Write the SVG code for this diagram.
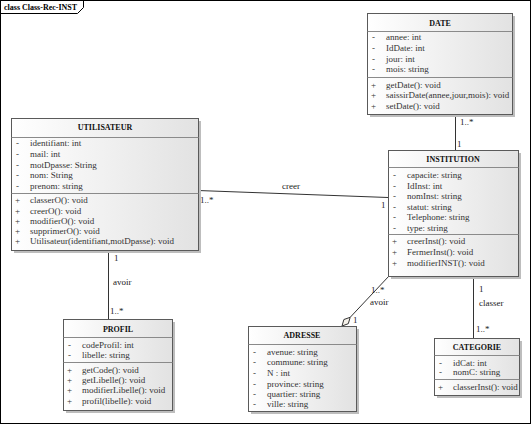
<svg xmlns="http://www.w3.org/2000/svg" width="532" height="425" viewBox="0 0 532 425">
<defs>
<linearGradient id="grad" x1="0" y1="0" x2="1" y2="0">
<stop offset="0" stop-color="#ffffff"/>
<stop offset="1" stop-color="#e2e2e2"/>
</linearGradient>
<style>
.shadow{fill:#bdbdbd;stroke:none}
.box{fill:url(#grad);stroke:#5a5a5a;stroke-width:1}
.sep{stroke:#8a8a8a;stroke-width:1}
.hdr{font-family:"Liberation Serif","Times New Roman",serif;font-size:8px;font-weight:bold;fill:#111;text-anchor:middle}
.t{font-family:"Liberation Serif","Times New Roman",serif;font-size:9px;fill:#333}
.lbl{font-family:"Liberation Serif","Times New Roman",serif;font-size:9px;fill:#222}
.conn{stroke:#333;stroke-width:1;fill:none}
</style>
</defs>
<rect x="0" y="0" width="532" height="425" fill="#ffffff"/>
<g id="frame">
<rect x="0.5" y="0.5" width="530" height="423" fill="none" stroke="#000" stroke-width="1"/>
<path d="M0.5,13.5 H77.5 L83.5,7.5 V0.5" fill="none" stroke="#000" stroke-width="1"/>
<text x="4" y="10" font-family="Liberation Serif, Times New Roman, serif" font-size="8" font-weight="bold" fill="#000">class Class-Rec-INST</text>
</g>

<g id="connectors">
<line class="conn" x1="455.5" y1="114" x2="455.5" y2="150"/>
<text class="lbl" x="460" y="125">1..*</text>
<text class="lbl" x="457" y="147">1</text>

<line class="conn" x1="198" y1="190.5" x2="388" y2="197.5"/>
<text class="lbl" x="282" y="189">creer</text>
<text class="lbl" x="200" y="203">1..*</text>
<text class="lbl" x="381" y="208">1</text>

<line class="conn" x1="108.5" y1="250" x2="108.5" y2="319"/>
<text class="lbl" x="114" y="261">1</text>
<text class="lbl" x="113" y="285">avoir</text>
<text class="lbl" x="110" y="314">1..*</text>

<line class="conn" x1="389" y1="276" x2="350.2" y2="317.3"/>
<polygon points="342,326 348.3,323.7 350.2,317.3 343.9,319.5" fill="#f6f2ea" stroke="#333" stroke-width="1"/>
<text class="lbl" x="371" y="293">1..*</text>
<text class="lbl" x="370" y="305">avoir</text>
<text class="lbl" x="353" y="323">1</text>

<line class="conn" x1="473.5" y1="276" x2="473.5" y2="338"/>
<text class="lbl" x="479" y="292">1</text>
<text class="lbl" x="479" y="306">classer</text>
<text class="lbl" x="476" y="332">1..*</text>
</g>

<g id="date">
<rect class="shadow" x="370" y="16" width="145" height="101"/>
<rect class="box" x="367.5" y="13.5" width="145" height="101"/>
<line class="sep" x1="367.5" y1="31.5" x2="512.5" y2="31.5"/>
<line class="sep" x1="367.5" y1="77.5" x2="512.5" y2="77.5"/>
<text class="hdr" x="440" y="26">DATE</text>
<text class="t" x="372" y="40">-</text><text class="t" x="386" y="40">annee: int</text>
<text class="t" x="372" y="51">-</text><text class="t" x="386" y="51">IdDate: int</text>
<text class="t" x="372" y="62">-</text><text class="t" x="386" y="62">jour: int</text>
<text class="t" x="372" y="72">-</text><text class="t" x="386" y="72">mois: string</text>
<text class="t" x="371" y="88">+</text><text class="t" x="386" y="88">getDate(): void</text>
<text class="t" x="371" y="98">+</text><text class="t" x="386" y="98">saissirDate(annee,jour,mois): void</text>
<text class="t" x="371" y="109">+</text><text class="t" x="386" y="109">setDate(): void</text>
</g>

<g id="utilisateur">
<rect class="shadow" x="14" y="121" width="187" height="132"/>
<rect class="box" x="11.5" y="118.5" width="187" height="132"/>
<line class="sep" x1="11.5" y1="137.5" x2="198.5" y2="137.5"/>
<line class="sep" x1="11.5" y1="193.5" x2="198.5" y2="193.5"/>
<text class="hdr" x="105" y="130">UTILISATEUR</text>
<text class="t" x="16" y="146">-</text><text class="t" x="30" y="146">identifiant: int</text>
<text class="t" x="16" y="157">-</text><text class="t" x="30" y="157">mail: int</text>
<text class="t" x="16" y="168">-</text><text class="t" x="30" y="168">motDpasse: String</text>
<text class="t" x="16" y="178">-</text><text class="t" x="30" y="178">nom: String</text>
<text class="t" x="16" y="189">-</text><text class="t" x="30" y="189">prenom: string</text>
<text class="t" x="15" y="203">+</text><text class="t" x="30" y="203">classerO(): void</text>
<text class="t" x="15" y="214">+</text><text class="t" x="30" y="214">creerO(): void</text>
<text class="t" x="15" y="224">+</text><text class="t" x="30" y="224">modifierO(): void</text>
<text class="t" x="15" y="234">+</text><text class="t" x="30" y="234">supprimerO(): void</text>
<text class="t" x="15" y="244">+</text><text class="t" x="30" y="244">Utilisateur(identifiant,motDpasse): void</text>
</g>

<g id="institution">
<rect class="shadow" x="391" y="153" width="130" height="126"/>
<rect class="box" x="388.5" y="150.5" width="130" height="126"/>
<line class="sep" x1="388.5" y1="167.5" x2="518.5" y2="167.5"/>
<line class="sep" x1="388.5" y1="234.5" x2="518.5" y2="234.5"/>
<text class="hdr" x="453" y="162">INSTITUTION</text>
<text class="t" x="393" y="178">-</text><text class="t" x="407" y="178">capacite: string</text>
<text class="t" x="393" y="189">-</text><text class="t" x="407" y="189">IdInst: int</text>
<text class="t" x="393" y="199">-</text><text class="t" x="407" y="199">nomInst: string</text>
<text class="t" x="393" y="210">-</text><text class="t" x="407" y="210">statut: string</text>
<text class="t" x="393" y="220">-</text><text class="t" x="407" y="220">Telephone: string</text>
<text class="t" x="393" y="231">-</text><text class="t" x="407" y="231">type: string</text>
<text class="t" x="392" y="244">+</text><text class="t" x="407" y="244">creerInst(): void</text>
<text class="t" x="392" y="255">+</text><text class="t" x="407" y="255">FermerInst(): void</text>
<text class="t" x="392" y="266">+</text><text class="t" x="407" y="266">modifierINST(): void</text>
</g>

<g id="profil">
<rect class="shadow" x="66" y="322" width="109" height="91"/>
<rect class="box" x="63.5" y="319.5" width="109" height="91"/>
<line class="sep" x1="63.5" y1="337.5" x2="172.5" y2="337.5"/>
<line class="sep" x1="63.5" y1="362.5" x2="172.5" y2="362.5"/>
<text class="hdr" x="118" y="332">PROFIL</text>
<text class="t" x="68" y="348">-</text><text class="t" x="82" y="348">codeProfil: int</text>
<text class="t" x="68" y="358">-</text><text class="t" x="82" y="358">libelle: string</text>
<text class="t" x="67" y="373">+</text><text class="t" x="82" y="373">getCode(): void</text>
<text class="t" x="67" y="383">+</text><text class="t" x="82" y="383">getLibelle(): void</text>
<text class="t" x="67" y="393">+</text><text class="t" x="82" y="393">modifierLibelle(): void</text>
<text class="t" x="67" y="404">+</text><text class="t" x="82" y="404">profil(libelle): void</text>
</g>

<g id="adresse">
<rect class="shadow" x="251" y="329" width="108" height="85"/>
<rect class="box" x="248.5" y="326.5" width="108" height="85"/>
<line class="sep" x1="248.5" y1="344.5" x2="356.5" y2="344.5"/>
<text class="hdr" x="302" y="338">ADRESSE</text>
<text class="t" x="253" y="355">-</text><text class="t" x="267" y="355">avenue: string</text>
<text class="t" x="253" y="365">-</text><text class="t" x="267" y="365">commune: string</text>
<text class="t" x="253" y="376">-</text><text class="t" x="267" y="376">N : int</text>
<text class="t" x="253" y="387">-</text><text class="t" x="267" y="387">province: string</text>
<text class="t" x="253" y="397">-</text><text class="t" x="267" y="397">quartier: string</text>
<text class="t" x="253" y="407">-</text><text class="t" x="267" y="407">ville: string</text>
</g>

<g id="categorie">
<rect class="shadow" x="437" y="341" width="85" height="57"/>
<rect class="box" x="434.5" y="338.5" width="85" height="57"/>
<line class="sep" x1="434.5" y1="355.5" x2="519.5" y2="355.5"/>
<line class="sep" x1="434.5" y1="379.5" x2="519.5" y2="379.5"/>
<text class="hdr" x="477" y="350">CATEGORIE</text>
<text class="t" x="439" y="366">-</text><text class="t" x="453" y="366">idCat: int</text>
<text class="t" x="439" y="375">-</text><text class="t" x="453" y="375">nomC: string</text>
<text class="t" x="438" y="390">+</text><text class="t" x="453" y="390">classerInst(): void</text>
</g>
</svg>
